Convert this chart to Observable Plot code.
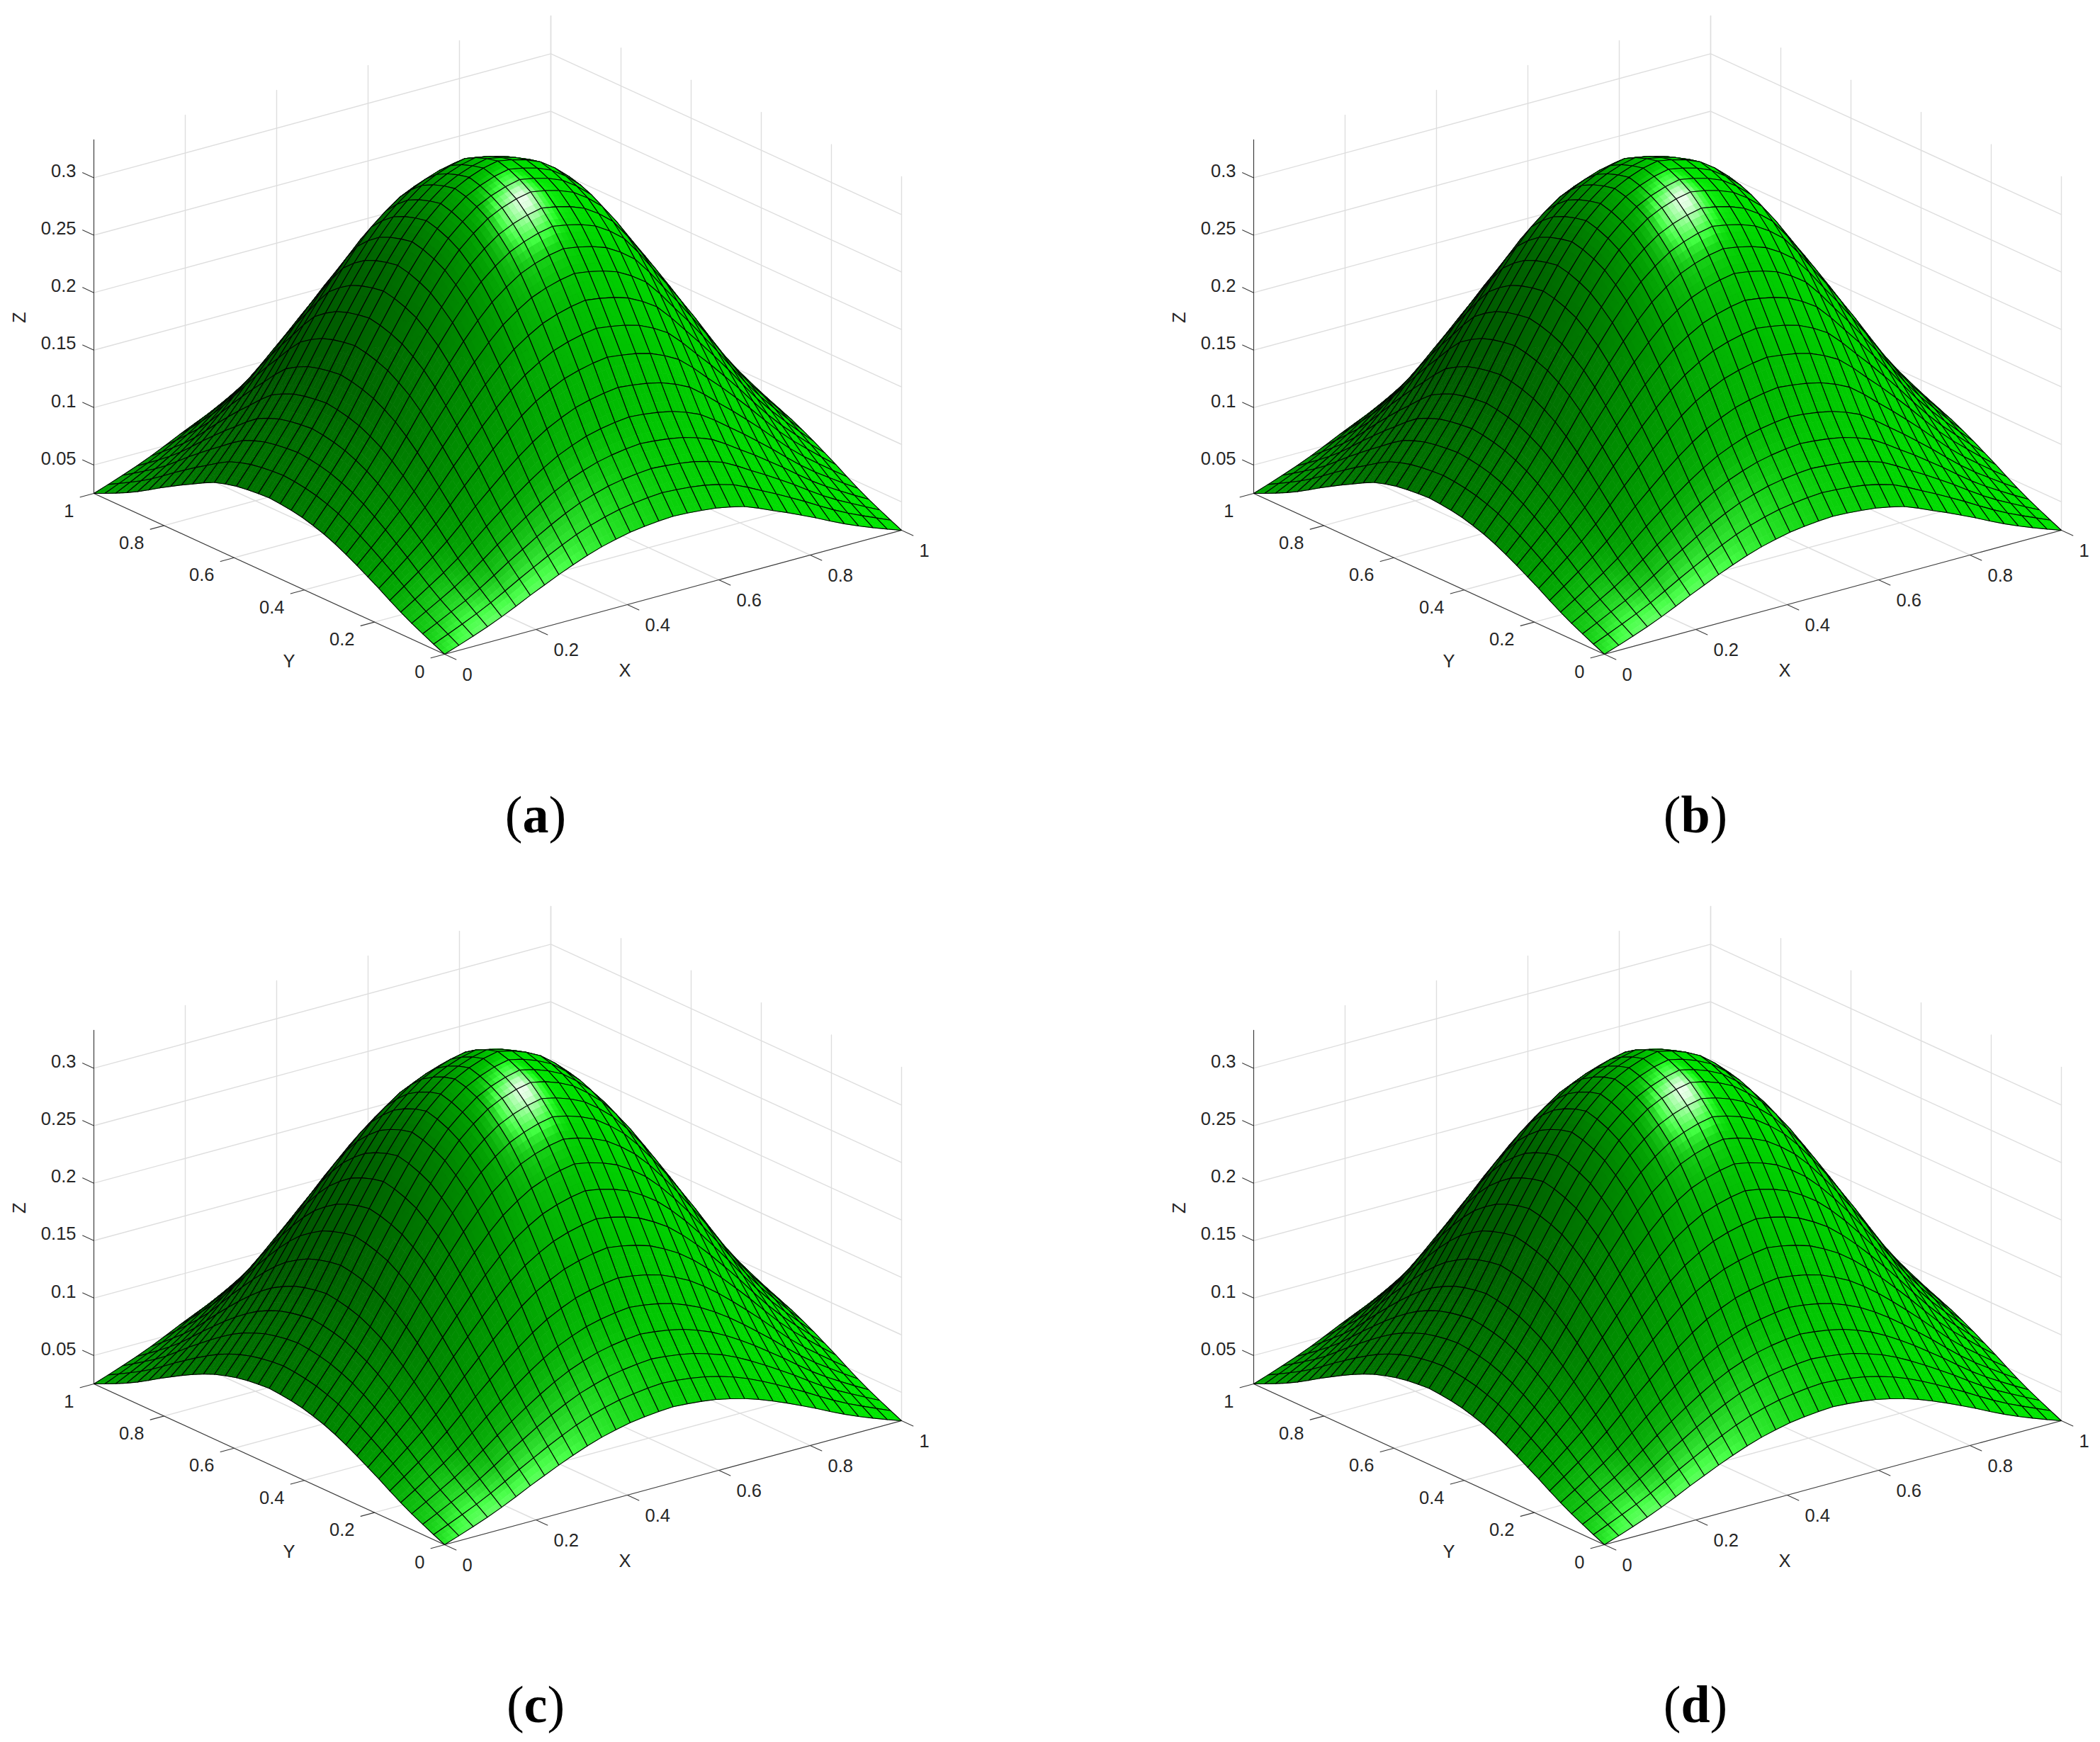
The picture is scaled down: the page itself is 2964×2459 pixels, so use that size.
<!DOCTYPE html>
<html><head><meta charset="utf-8">
<script src="https://cdn.jsdelivr.net/npm/d3@7"></script>
<script src="https://cdn.jsdelivr.net/npm/@observablehq/plot@0.6"></script>
<style>body{margin:0;background:#fff;width:2964px;height:2459px;position:relative;overflow:hidden}
.p{position:absolute}.c{position:absolute;font-family:"Liberation Serif";font-size:74px;color:#000;transform:translate(-50%,-50%);line-height:1}.c b{font-weight:700}</style>
</head><body><script>
// Surface height, in units of 1e-4; rows are Y = 0..1, columns are X = 0..1, in 32 steps.
const zTopPanels=[
[253,297,343,391,444,502,563,620,676,728,776,817,849,876,894,906,914,908,898,884,860,830,782,728,676,620,563,502,444,391,343,297,253],
[297,350,404,460,522,591,662,729,795,856,913,961,999,1030,1051,1066,1075,1068,1057,1040,1012,976,920,856,795,729,662,591,522,460,404,350,297],
[343,404,467,531,603,683,765,842,918,989,1054,1110,1153,1190,1214,1231,1242,1233,1220,1201,1169,1128,1063,989,918,842,765,683,603,531,467,404,343],
[391,460,531,605,686,777,871,959,1046,1127,1200,1264,1314,1355,1383,1402,1415,1405,1390,1368,1331,1284,1210,1127,1046,959,871,777,686,605,531,460,391],
[444,522,603,686,778,882,988,1088,1186,1278,1362,1434,1490,1537,1568,1590,1604,1593,1576,1551,1509,1456,1373,1278,1186,1088,988,882,778,686,603,522,444],
[502,591,683,777,882,999,1119,1232,1343,1447,1542,1624,1687,1741,1776,1801,1817,1804,1785,1757,1710,1650,1555,1447,1343,1232,1119,999,882,777,683,591,502],
[563,662,765,871,988,1119,1253,1381,1505,1621,1728,1820,1890,1951,1989,2018,2036,2021,2000,1968,1915,1848,1742,1621,1505,1381,1253,1119,988,871,765,662,563],
[620,729,842,959,1088,1232,1381,1521,1658,1786,1903,2005,2083,2149,2192,2223,2243,2227,2204,2168,2110,2036,1919,1786,1658,1521,1381,1232,1088,959,842,729,620],
[676,795,918,1046,1186,1343,1505,1658,1806,1947,2074,2185,2270,2342,2389,2423,2444,2427,2401,2363,2299,2219,2091,1947,1806,1658,1505,1343,1186,1046,918,795,676],
[728,856,989,1127,1278,1447,1621,1786,1947,2098,2235,2354,2446,2524,2574,2611,2634,2615,2588,2546,2478,2391,2253,2098,1947,1786,1621,1447,1278,1127,989,856,728],
[776,913,1054,1200,1362,1542,1728,1903,2074,2235,2381,2508,2606,2689,2743,2782,2806,2786,2757,2713,2640,2547,2401,2235,2074,1903,1728,1542,1362,1200,1054,913,776],
[817,961,1110,1264,1434,1624,1820,2005,2185,2354,2508,2642,2745,2832,2889,2930,2956,2935,2904,2858,2781,2683,2529,2354,2185,2005,1820,1624,1434,1264,1110,961,817],
[849,999,1153,1314,1490,1687,1890,2083,2270,2446,2606,2745,2852,2942,3001,3044,3071,3049,3017,2969,2889,2787,2627,2446,2270,2083,1890,1687,1490,1314,1153,999,849],
[876,1030,1190,1355,1537,1741,1951,2149,2342,2524,2689,2832,2942,3036,3097,3141,3168,3146,3113,3064,2981,2876,2711,2524,2342,2149,1951,1741,1537,1355,1190,1030,876],
[894,1051,1214,1383,1568,1776,1989,2192,2389,2574,2743,2889,3001,3097,3158,3203,3232,3209,3175,3125,3040,2934,2765,2574,2389,2192,1989,1776,1568,1383,1214,1051,894],
[906,1066,1231,1402,1590,1801,2018,2223,2423,2611,2782,2930,3044,3141,3203,3249,3278,3255,3221,3169,3084,2975,2804,2611,2423,2223,2018,1801,1590,1402,1231,1066,906],
[914,1075,1242,1415,1604,1817,2036,2243,2444,2634,2806,2956,3071,3168,3232,3278,3306,3283,3249,3197,3111,3002,2829,2634,2444,2243,2036,1817,1604,1415,1242,1075,914],
[908,1068,1233,1405,1593,1804,2021,2227,2427,2615,2786,2935,3049,3146,3209,3255,3283,3260,3226,3175,3089,2981,2809,2615,2427,2227,2021,1804,1593,1405,1233,1068,908],
[898,1057,1220,1390,1576,1785,2000,2204,2401,2588,2757,2904,3017,3113,3175,3221,3249,3226,3192,3141,3057,2949,2780,2588,2401,2204,2000,1785,1576,1390,1220,1057,898],
[884,1040,1201,1368,1551,1757,1968,2168,2363,2546,2713,2858,2969,3064,3125,3169,3197,3175,3141,3091,3008,2902,2736,2546,2363,2168,1968,1757,1551,1368,1201,1040,884],
[860,1012,1169,1331,1509,1710,1915,2110,2299,2478,2640,2781,2889,2981,3040,3084,3111,3089,3057,3008,2927,2824,2662,2478,2299,2110,1915,1710,1509,1331,1169,1012,860],
[830,976,1128,1284,1456,1650,1848,2036,2219,2391,2547,2683,2787,2876,2934,2975,3002,2981,2949,2902,2824,2725,2568,2391,2219,2036,1848,1650,1456,1284,1128,976,830],
[782,920,1063,1210,1373,1555,1742,1919,2091,2253,2401,2529,2627,2711,2765,2804,2829,2809,2780,2736,2662,2568,2421,2253,2091,1919,1742,1555,1373,1210,1063,920,782],
[728,856,989,1127,1278,1447,1621,1786,1947,2098,2235,2354,2446,2524,2574,2611,2634,2615,2588,2546,2478,2391,2253,2098,1947,1786,1621,1447,1278,1127,989,856,728],
[676,795,918,1046,1186,1343,1505,1658,1806,1947,2074,2185,2270,2342,2389,2423,2444,2427,2401,2363,2299,2219,2091,1947,1806,1658,1505,1343,1186,1046,918,795,676],
[620,729,842,959,1088,1232,1381,1521,1658,1786,1903,2005,2083,2149,2192,2223,2243,2227,2204,2168,2110,2036,1919,1786,1658,1521,1381,1232,1088,959,842,729,620],
[563,662,765,871,988,1119,1253,1381,1505,1621,1728,1820,1890,1951,1989,2018,2036,2021,2000,1968,1915,1848,1742,1621,1505,1381,1253,1119,988,871,765,662,563],
[502,591,683,777,882,999,1119,1232,1343,1447,1542,1624,1687,1741,1776,1801,1817,1804,1785,1757,1710,1650,1555,1447,1343,1232,1119,999,882,777,683,591,502],
[444,522,603,686,778,882,988,1088,1186,1278,1362,1434,1490,1537,1568,1590,1604,1593,1576,1551,1509,1456,1373,1278,1186,1088,988,882,778,686,603,522,444],
[391,460,531,605,686,777,871,959,1046,1127,1200,1264,1314,1355,1383,1402,1415,1405,1390,1368,1331,1284,1210,1127,1046,959,871,777,686,605,531,460,391],
[343,404,467,531,603,683,765,842,918,989,1054,1110,1153,1190,1214,1231,1242,1233,1220,1201,1169,1128,1063,989,918,842,765,683,603,531,467,404,343],
[297,350,404,460,522,591,662,729,795,856,913,961,999,1030,1051,1066,1075,1068,1057,1040,1012,976,920,856,795,729,662,591,522,460,404,350,297],
[253,297,343,391,444,502,563,620,676,728,776,817,849,876,894,906,914,908,898,884,860,830,782,728,676,620,563,502,444,391,343,297,253]];
const zBottomPanels=[
[253,297,343,391,444,502,563,620,676,728,776,817,849,876,894,906,914,906,894,876,849,817,776,728,676,620,563,502,444,391,343,297,253],
[297,350,404,460,522,591,662,729,795,856,913,961,999,1030,1051,1066,1075,1066,1051,1030,999,961,913,856,795,729,662,591,522,460,404,350,297],
[343,404,467,531,603,683,765,842,918,989,1054,1110,1153,1190,1214,1231,1242,1231,1214,1190,1153,1110,1054,989,918,842,765,683,603,531,467,404,343],
[391,460,531,605,686,777,871,959,1046,1127,1200,1264,1314,1355,1383,1402,1415,1402,1383,1355,1314,1264,1200,1127,1046,959,871,777,686,605,531,460,391],
[444,522,603,686,778,882,988,1088,1186,1278,1362,1434,1490,1537,1568,1590,1604,1590,1568,1537,1490,1434,1362,1278,1186,1088,988,882,778,686,603,522,444],
[502,591,683,777,882,999,1119,1232,1343,1447,1542,1624,1687,1741,1776,1801,1817,1801,1776,1741,1687,1624,1542,1447,1343,1232,1119,999,882,777,683,591,502],
[563,662,765,871,988,1119,1253,1381,1505,1621,1728,1820,1890,1951,1989,2018,2036,2018,1989,1951,1890,1820,1728,1621,1505,1381,1253,1119,988,871,765,662,563],
[620,729,842,959,1088,1232,1381,1521,1658,1786,1903,2005,2083,2149,2192,2223,2243,2223,2192,2149,2083,2005,1903,1786,1658,1521,1381,1232,1088,959,842,729,620],
[676,795,918,1046,1186,1343,1505,1658,1806,1947,2074,2185,2270,2342,2389,2423,2444,2423,2389,2342,2270,2185,2074,1947,1806,1658,1505,1343,1186,1046,918,795,676],
[728,856,989,1127,1278,1447,1621,1786,1947,2098,2235,2354,2446,2524,2574,2611,2634,2611,2574,2524,2446,2354,2235,2098,1947,1786,1621,1447,1278,1127,989,856,728],
[776,913,1054,1200,1362,1542,1728,1903,2074,2235,2381,2508,2606,2689,2743,2782,2806,2782,2743,2689,2606,2508,2381,2235,2074,1903,1728,1542,1362,1200,1054,913,776],
[817,961,1110,1264,1434,1624,1820,2005,2185,2354,2508,2642,2745,2832,2889,2930,2956,2930,2889,2832,2745,2642,2508,2354,2185,2005,1820,1624,1434,1264,1110,961,817],
[849,999,1153,1314,1490,1687,1890,2083,2270,2446,2606,2745,2852,2942,3001,3044,3071,3044,3001,2942,2852,2745,2606,2446,2270,2083,1890,1687,1490,1314,1153,999,849],
[876,1030,1190,1355,1537,1741,1951,2149,2342,2524,2689,2832,2942,3036,3097,3141,3168,3141,3097,3036,2942,2832,2689,2524,2342,2149,1951,1741,1537,1355,1190,1030,876],
[894,1051,1214,1383,1568,1776,1989,2192,2389,2574,2743,2889,3001,3097,3158,3203,3232,3203,3158,3097,3001,2889,2743,2574,2389,2192,1989,1776,1568,1383,1214,1051,894],
[906,1066,1231,1402,1590,1801,2018,2223,2423,2611,2782,2930,3044,3141,3203,3249,3278,3249,3203,3141,3044,2930,2782,2611,2423,2223,2018,1801,1590,1402,1231,1066,906],
[914,1075,1242,1415,1604,1817,2036,2243,2444,2634,2806,2956,3071,3168,3232,3278,3306,3278,3232,3168,3071,2956,2806,2634,2444,2243,2036,1817,1604,1415,1242,1075,914],
[906,1066,1231,1402,1590,1801,2018,2223,2423,2611,2782,2930,3044,3141,3203,3249,3278,3249,3203,3141,3044,2930,2782,2611,2423,2223,2018,1801,1590,1402,1231,1066,906],
[894,1051,1214,1383,1568,1776,1989,2192,2389,2574,2743,2889,3001,3097,3158,3203,3232,3203,3158,3097,3001,2889,2743,2574,2389,2192,1989,1776,1568,1383,1214,1051,894],
[876,1030,1190,1355,1537,1741,1951,2149,2342,2524,2689,2832,2942,3036,3097,3141,3168,3141,3097,3036,2942,2832,2689,2524,2342,2149,1951,1741,1537,1355,1190,1030,876],
[849,999,1153,1314,1490,1687,1890,2083,2270,2446,2606,2745,2852,2942,3001,3044,3071,3044,3001,2942,2852,2745,2606,2446,2270,2083,1890,1687,1490,1314,1153,999,849],
[817,961,1110,1264,1434,1624,1820,2005,2185,2354,2508,2642,2745,2832,2889,2930,2956,2930,2889,2832,2745,2642,2508,2354,2185,2005,1820,1624,1434,1264,1110,961,817],
[776,913,1054,1200,1362,1542,1728,1903,2074,2235,2381,2508,2606,2689,2743,2782,2806,2782,2743,2689,2606,2508,2381,2235,2074,1903,1728,1542,1362,1200,1054,913,776],
[728,856,989,1127,1278,1447,1621,1786,1947,2098,2235,2354,2446,2524,2574,2611,2634,2611,2574,2524,2446,2354,2235,2098,1947,1786,1621,1447,1278,1127,989,856,728],
[676,795,918,1046,1186,1343,1505,1658,1806,1947,2074,2185,2270,2342,2389,2423,2444,2423,2389,2342,2270,2185,2074,1947,1806,1658,1505,1343,1186,1046,918,795,676],
[620,729,842,959,1088,1232,1381,1521,1658,1786,1903,2005,2083,2149,2192,2223,2243,2223,2192,2149,2083,2005,1903,1786,1658,1521,1381,1232,1088,959,842,729,620],
[563,662,765,871,988,1119,1253,1381,1505,1621,1728,1820,1890,1951,1989,2018,2036,2018,1989,1951,1890,1820,1728,1621,1505,1381,1253,1119,988,871,765,662,563],
[502,591,683,777,882,999,1119,1232,1343,1447,1542,1624,1687,1741,1776,1801,1817,1801,1776,1741,1687,1624,1542,1447,1343,1232,1119,999,882,777,683,591,502],
[444,522,603,686,778,882,988,1088,1186,1278,1362,1434,1490,1537,1568,1590,1604,1590,1568,1537,1490,1434,1362,1278,1186,1088,988,882,778,686,603,522,444],
[391,460,531,605,686,777,871,959,1046,1127,1200,1264,1314,1355,1383,1402,1415,1402,1383,1355,1314,1264,1200,1127,1046,959,871,777,686,605,531,460,391],
[343,404,467,531,603,683,765,842,918,989,1054,1110,1153,1190,1214,1231,1242,1231,1214,1190,1153,1110,1054,989,918,842,765,683,603,531,467,404,343],
[297,350,404,460,522,591,662,729,795,856,913,961,999,1030,1051,1066,1075,1066,1051,1030,999,961,913,856,795,729,662,591,522,460,404,350,297],
[253,297,343,391,444,502,563,620,676,728,776,817,849,876,894,906,914,906,894,876,849,817,776,728,676,620,563,502,444,391,343,297,253]];
const xTicks=[0,.2,.4,.6,.8,1],yTicks=[0,.2,.4,.6,.8,1],zTicks=[.05,.1,.15,.2,.25,.3];
const captions=["a","b","c","d"];

const N=32,zMin=.0253,zMax=.333,W=1327,H=1100;
// Orthographic view of the axes box (azimuth about 37.5 degrees, elevation about 20.7 degrees).
const pr=(x,y,z)=>[627+645*x-495*y,923-175*x-227*y-1622*(z-zMin)];
const K=1770/813,L=[.417,-.3,.86],HV=[-.145,-.503,.853];
const unit=a=>{const n=Math.hypot(...a);return a.map(v=>v/n)};
const dot=(a,b)=>a[0]*b[0]+a[1]*b[1]+a[2]*b[2];
function panel(table,left,top){
 const T=table.map(r=>r.map(v=>v/1e4));
 const nrm=[];for(let j=0;j<=N;j++){nrm.push([]);for(let i=0;i<=N;i++){
  const zx=(T[j][Math.min(i+1,N)]-T[j][Math.max(i-1,0)])/((Math.min(i+1,N)-Math.max(i-1,0))/N);
  const zy=(T[Math.min(j+1,N)][i]-T[Math.max(j-1,0)][i])/((Math.min(j+1,N)-Math.max(j-1,0))/N);
  nrm[j].push([-zx*K,-zy*K,1])}}
 const sub=3,poly=[];let id=0;
 const add=(pts,fill,stroke,w)=>{id++;for(const p of pts){const q=pr(...p);poly.push({u:q[0],v:q[1],id,fill,stroke,w})}};
 for(let j=N-1;j>=0;j--)for(let i=N-1;i>=0;i--){
  const P=(s,t)=>{const a=T[j][i],b=T[j][i+1],c=T[j+1][i],d=T[j+1][i+1];return[(i+s)/N,(j+t)/N,a*(1-s)*(1-t)+b*s*(1-t)+c*(1-s)*t+d*s*t]};
  // Each cell is painted in small patches so that the smooth lighting of the reference is kept.
  for(let b=sub-1;b>=0;b--)for(let a=sub-1;a>=0;a--){
   const s=(a+.5)/sub,t=(b+.5)/sub;
   const n=unit([0,1,2].map(k=>nrm[j][i][k]*(1-s)*(1-t)+nrm[j][i+1][k]*s*(1-t)+nrm[j+1][i][k]*(1-s)*t+nrm[j+1][i+1][k]*s*t));
   const nl=Math.max(0,dot(n,L));
   const sp=Math.pow(Math.max(0,dot(n,HV)),50)*.9;
   const g=Math.min(1,.3+.6*nl+sp),rb=Math.min(1,sp);
   const c=`rgb(${Math.round(rb*255)},${Math.round(g*255)},${Math.round(rb*255)})`;
   const s0=a/sub,s1=(a+1)/sub,t0=b/sub,t1=(b+1)/sub;
   add([P(s0,t0),P(s1,t0),P(s1,t1),P(s0,t1),P(s0,t0)],c,c,.7);
  }
  add([P(0,0),P(1,0),P(1,1),P(0,1),P(0,0)],"none","#000",1.1);
 }
 const seg=rows=>rows.flatMap((r,k)=>r.map(p=>{const q=pr(...p);return{u:q[0],v:q[1],k}}));
 const grid=[];
 for(const t of xTicks){grid.push([[t,1,zMin],[t,1,zMax]]);grid.push([[t,0,zMin],[t,1,zMin]])}
 for(const t of yTicks){grid.push([[1,t,zMin],[1,t,zMax]]);grid.push([[0,t,zMin],[1,t,zMin]])}
 for(const t of zTicks){grid.push([[0,1,t],[1,1,t],[1,0,t]])}
 const axes=[[[0,0,zMin],[1,0,zMin]],[[0,0,zMin],[0,1,zMin]],[[0,1,zMin],[0,1,zMax]]];
 for(const t of xTicks)axes.push([[t,0,zMin],[t,-.033,zMin]]);
 for(const t of yTicks)axes.push([[0,t,zMin],[-.03,t,zMin]]);
 for(const t of zTicks)axes.push([[0,1,t],[0,1.032,t]]);
 const lab=arr=>arr.map(([a,t])=>{const q=pr(...a);return{u:q[0],v:q[1],t:String(t)}});
 const font={fontFamily:"Liberation Sans",fontSize:25.5,fill:"#262626"};
 const plot=Plot.plot({width:W,height:H,margin:0,x:{domain:[0,W],axis:null},y:{domain:[H,0],axis:null},color:{type:"identity"},style:{background:"transparent"},marks:[
  Plot.line(seg(grid),{x:"u",y:"v",z:"k",stroke:"#dedede",strokeWidth:1.4}),
  Plot.line(seg(axes),{x:"u",y:"v",z:"k",stroke:"#3a3a3a",strokeWidth:1.1}),
  Plot.line(poly,{x:"u",y:"v",z:"id",fill:"fill",stroke:"stroke",strokeWidth:"w"}),
  Plot.text(lab(xTicks.map(t=>[[t,0,zMin],t])),{x:"u",y:"v",text:"t",dx:25,dy:29,textAnchor:"start",...font}),
  Plot.text(lab(yTicks.map(t=>[[0,t,zMin],t])),{x:"u",y:"v",text:"t",dx:-28,dy:25,textAnchor:"end",...font}),
  Plot.text(lab(zTicks.map(t=>[[0,1,t],t])),{x:"u",y:"v",text:"t",dx:-25,dy:-9,textAnchor:"end",...font}),
  Plot.text(lab([[[.5,0,zMin],"X"]]),{x:"u",y:"v",text:"t",dx:-68,dy:111,...font}),
  Plot.text(lab([[[0,.5,zMin],"Y"]]),{x:"u",y:"v",text:"t",dx:28,dy:124,...font}),
  Plot.text(lab([[[0,1,.179],"Z"]]),{x:"u",y:"v",text:"t",dx:-105,dy:1,rotate:-90,...font})
 ]});
 plot.setAttribute("class","p");plot.style.left=left+"px";plot.style.top=top+"px";document.body.appendChild(plot);
}
const panels=[[zTopPanels,0,0],[zTopPanels,1637,0],[zBottomPanels,0,1257],[zBottomPanels,1637,1257]];
panels.forEach((p,k)=>{panel(...p);
 const d=document.createElement("div");d.className="c";d.style.left=(p[1]+756)+"px";d.style.top=(p[2]===0?1150:2406)+"px";d.innerHTML=`(<b>${captions[k]}</b>)`;document.body.appendChild(d)});
</script></body></html>
